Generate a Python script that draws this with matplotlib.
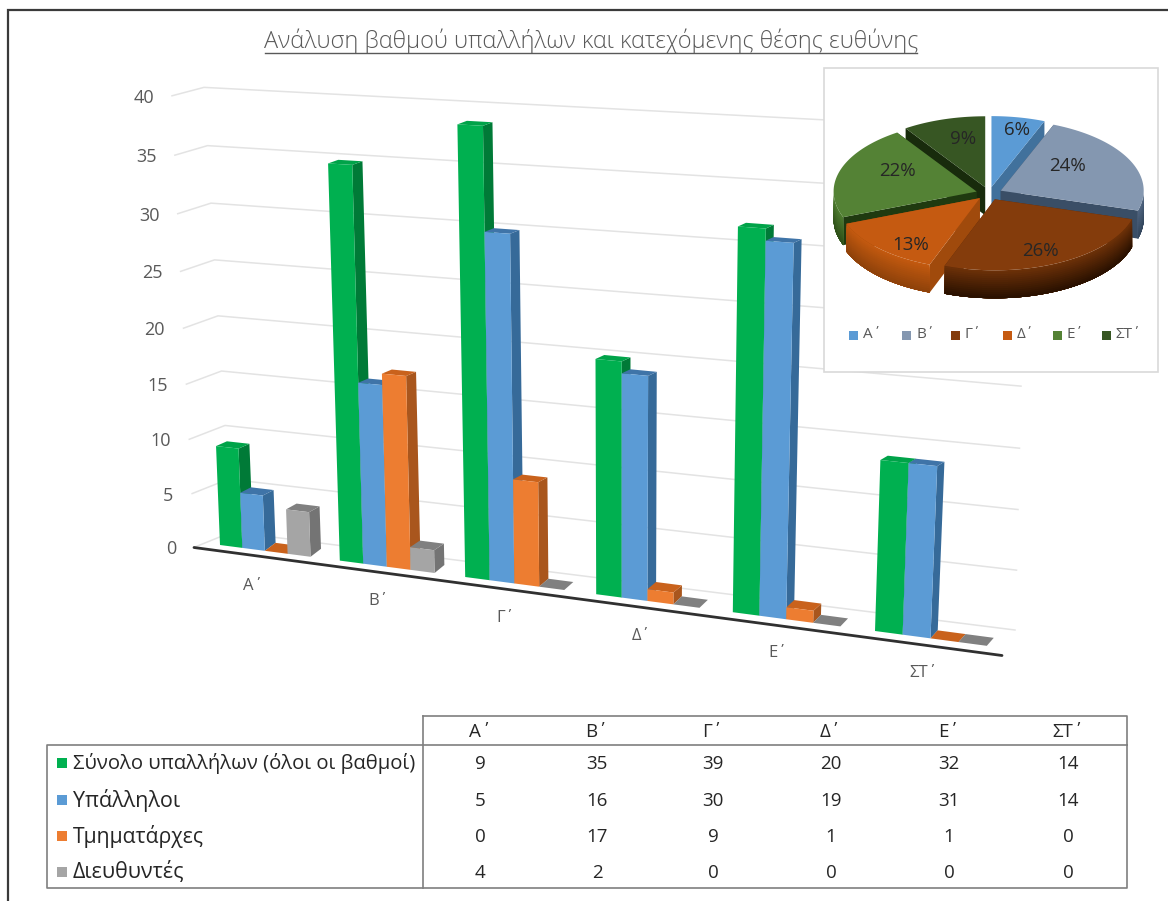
import numpy as np
import matplotlib
matplotlib.use("Agg")
import matplotlib.pyplot as plt
from matplotlib.patches import Polygon, Rectangle

plt.rcParams['font.family'] = ['Open Sans', 'DejaVu Sans']

TITLE = "Ανάλυση βαθμού υπαλλήλων και κατεχόμενης θέσης ευθύνης"
categories = ["Α΄", "Β΄", "Γ΄", "Δ΄", "Ε΄", "ΣΤ΄"]
series_names = ["Σύνολο υπαλλήλων (όλοι οι βαθμοί)", "Υπάλληλοι", "Τμηματάρχες", "Διευθυντές"]
total_staff = [9, 35, 39, 20, 32, 14]
employees = [5, 16, 30, 19, 31, 14]
heads = [0, 17, 9, 1, 1, 0]
directors = [4, 2, 0, 0, 0, 0]
y_ticks = [0, 5, 10, 15, 20, 25, 30, 35, 40]
pie_labels = ["6%", "24%", "26%", "13%", "22%", "9%"]

series = [total_staff, employees, heads, directors]
name_sizes = [14.6, 15.5, 15.2, 15.5]
front_cols = ["#00B050", "#5B9BD5", "#ED7D31", "#A5A5A5"]
top_cols = ["#00A349", "#3F74A8", "#C9621C", "#808080"]
side_cols = ["#007A37", "#366A99", "#A9561D", "#747474"]
pie_cols = ["#5B9BD5", "#8497B0", "#843C0C", "#C55A11", "#548235", "#375623"]
pie_edge = ["#41719C", "#3A4E66", "#5A2806", "#A04A0C", "#1F3A10", "#182B0C"]
pie_wall_hi = ["#41719C", "#4F6480", "#6B3008", "#C2590F", "#4C7A2E", "#2A431A"]
pie_wall_lo = ["#41719C", "#33465C", "#2A1100", "#8F420A", "#2F5019", "#2A431A"]
GREY = "#595959"
DARK = "#262626"

fig = plt.figure(figsize=(11.68, 9.01), dpi=100)
ax = fig.add_axes([0, 0, 1, 1])
ax.set_xlim(0, 1168)
ax.set_ylim(901, 0)
ax.axis("off")

# Outer frame of the sheet
ax.plot([8, 8, 1168], [901, 9.5, 9.5], color="#3A3A3A", lw=1.6, solid_joinstyle="miter")

# Title with a hand-drawn underline
ax.text(591, 41, TITLE, ha="center", va="center", fontsize=16.9, color=GREY, fontweight="light")
ax.plot([265, 917], [53, 53], color=GREY, lw=1.0)


# Oblique perspective of the column chart: u runs along categories, v up the value axis
def base_x(u):
    return 220 + 117 * u + 2.8 * u ** 2


def base_y(u):
    return 545 + 15.2 * u + 0.4 * u ** 2


def project(u, v):
    scale = 10.95 + 0.24 * u
    lean = -0.44 + 0.09 * u + 0.015 * u ** 2
    return base_x(u) + lean * v, base_y(u) - scale * v - 0.0045 * v ** 2


def depth(u, v):
    return 11 - 0.7 * u, -(3 + 5 / (1 + v / 5))


# Back wall and side wall gridlines
for v in y_ticks:
    front = (195 - 0.575 * v, 547 - 10.6 * v - 0.017 * v ** 2)
    back = (232 - 0.7 * v, 532 - 10.5 * v - 0.0154 * v ** 2)
    right = (1015 + 0.3 * v, 630 - 11.9 * v - 0.0147 * v ** 2)
    ax.plot([front[0], back[0], right[0]], [front[1], back[1], right[1]],
            color="#E3E3E3", lw=1.1, zorder=1)
    ax.text(176 - 0.55 * v, front[1] + 2, str(v), ha="right", va="center",
            fontsize=13, color=GREY)

# Floor axis
ax.plot([194, 1002], [547.5, 655.5], color="#303030", lw=2.0, zorder=2, solid_capstyle="round")

# Columns, painted left to right so nearer faces cover the side of their neighbour
BAR_W = 0.19
for i, cat in enumerate(categories):
    for j, values in enumerate(series):
        v = values[i]
        u0 = i + j * BAR_W
        u1 = u0 + BAR_W
        p00, p10 = project(u0, 0), project(u1, 0)
        p01, p11 = project(u0, v), project(u1, v)
        dx, dy = depth(u1, v)
        dx0, dy0 = depth(u1, 0)
        side = [p10, p11, (p11[0] + dx, p11[1] + dy), (p10[0] + dx0, p10[1] + dy0)]
        top = [p01, p11, (p11[0] + dx, p11[1] + dy), (p01[0] + dx, p01[1] + dy)]
        ax.add_patch(Polygon(side, fc=side_cols[j], ec="none", zorder=3))
        ax.add_patch(Polygon(top, fc=top_cols[j], ec="none", zorder=3))
        ax.add_patch(Polygon([p00, p10, p11, p01], fc=front_cols[j], ec="none", zorder=3))

cat_label_x = [253, 378, 506, 641, 778, 923]
cat_label_y = [586, 601, 618, 636, 653, 673]
for x, y, cat in zip(cat_label_x, cat_label_y, categories):
    ax.text(x, y, cat, ha="center", va="center", fontsize=12, color=GREY)

# Inset pie panel
ax.add_patch(Rectangle((824, 68), 334, 304, fc="white", ec="#D9D9D9", lw=1.2, zorder=5))

CX, CY, RX, RY, THICK, EXPLODE = 989, 193.5, 143, 71, 28, 13
shares = np.array(total_staff, dtype=float)
angles = np.concatenate([[0], np.cumsum(shares) / shares.sum() * 2 * np.pi])


def rim(t, ox, oy):
    return ox + RX * np.sin(t), oy - RY * np.cos(t)


def offset(mid):
    return CX + EXPLODE * np.sin(mid), CY - 0.5 * EXPLODE * np.cos(mid)


def mix(a, b, f):
    ca, cb = matplotlib.colors.to_rgb(a), matplotlib.colors.to_rgb(b)
    return tuple(x + (y - x) * f for x, y in zip(ca, cb))


# Furthest slices first so that the nearer ones overlap them
for k in [5, 0, 4, 1, 3, 2]:
    a0, a1 = angles[k], angles[k + 1]
    ox, oy = offset((a0 + a1) / 2)
    # Radial walls
    for a in (a0, a1):
        rx, ry = rim(a, ox, oy)
        ax.add_patch(Polygon([(ox, oy), (rx, ry), (rx, ry + THICK), (ox, oy + THICK)],
                             fc=pie_edge[k], ec="none", zorder=6))
    # Outer curved wall: each shade layer paints down to the bottom edge, so no seams show
    lo, hi = max(a0, np.pi / 2), min(a1, 3 * np.pi / 2)
    if hi > lo:
        ts = np.linspace(lo, hi, 60)
        layers = 14
        for n in range(layers):
            d0 = THICK * n / layers
            xs, ys = rim(ts, ox, oy)
            pts = np.r_[np.c_[xs, ys + d0], np.c_[xs, ys + THICK][::-1]]
            ax.add_patch(Polygon(pts, fc=mix(pie_wall_hi[k], pie_wall_lo[k], n / (layers - 1)),
                                 ec="none", zorder=6))
    # Top face
    ts = np.linspace(a0, a1, 80)
    xs, ys = rim(ts, ox, oy)
    pts = np.r_[[[ox, oy]], np.c_[xs, ys]]
    ax.add_patch(Polygon(pts, fc=pie_cols[k], ec="none", zorder=6))

pie_lx = [1017, 1067, 1040, 911, 897, 963]
pie_ly = [130, 166, 251, 245, 171, 139]
for x, y, lab in zip(pie_lx, pie_ly, pie_labels):
    ax.text(x, y, lab, ha="center", va="center", fontsize=13.5, color=DARK, zorder=7)

pie_key_x = [853, 906, 955, 1007, 1057, 1106]
for x, col, cat in zip(pie_key_x, pie_cols, categories):
    ax.add_patch(Rectangle((x - 4.5, 330.5), 9, 9, fc=col, ec="none", zorder=7))
    ax.text(x + 10, 335, cat, ha="left", va="center", fontsize=11, color=GREY, zorder=7)

# Data table below the chart
LINE = "#7F7F7F"
ax.plot([423, 1127, 1127, 47, 47, 1127], [716, 716, 888, 888, 745, 745], color=LINE, lw=1.2)
ax.plot([423, 423], [716, 888], color=LINE, lw=1.2)

col_x = [480, 597, 713, 831, 949, 1068]
row_y = [763, 800, 836, 872]
for x, cat in zip(col_x, categories):
    ax.text(x, 732, cat, ha="center", va="center", fontsize=13.5, color=DARK)
for y, name, values, col, size in zip(row_y, series_names, series, front_cols, name_sizes):
    ax.add_patch(Rectangle((57, y - 5), 10, 10, fc=col, ec="none"))
    ax.text(73, y, name, ha="left", va="center", fontsize=size, color=DARK)
    for x, v in zip(col_x, values):
        ax.text(x, y + 1, str(v), ha="center", va="center", fontsize=13.5, color=DARK)

fig.savefig("out.png", dpi=100, facecolor="white")
